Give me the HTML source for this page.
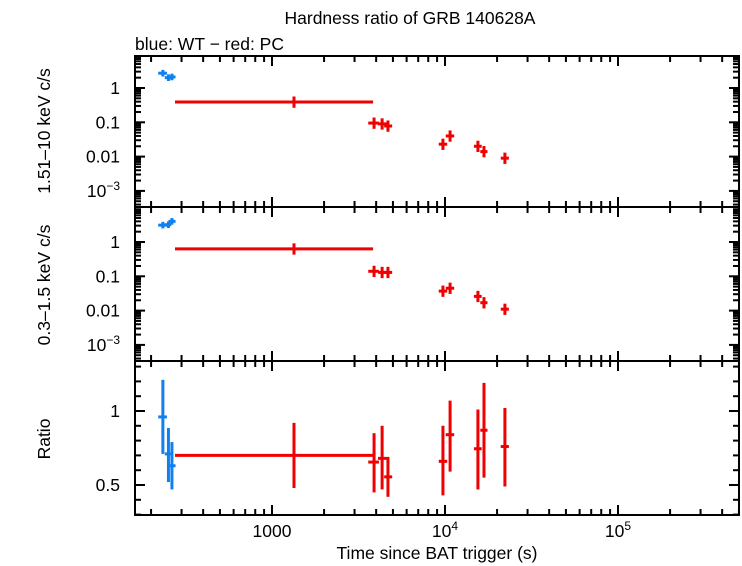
<!DOCTYPE html>
<html><head><meta charset="utf-8"><style>
html,body{margin:0;padding:0;background:#fff;}
svg{display:block;font-family:"Liberation Sans",sans-serif;}
</style></head><body>
<svg id="c" width="742" height="566" viewBox="0 0 742 566">
<text x="410" y="24" font-size="17.5" text-anchor="middle">Hardness ratio of GRB 140628A</text>
<text x="135" y="50" font-size="17.5">blue: WT − red: PC</text>
<text transform="translate(50,131) rotate(-90)" font-size="17.5" text-anchor="middle">1.51–10 keV c/s</text>
<text transform="translate(50,285) rotate(-90)" font-size="17.5" text-anchor="middle">0.3–1.5 keV c/s</text>
<text transform="translate(50,439) rotate(-90)" font-size="17.5" text-anchor="middle">Ratio</text>
<text x="437" y="559" font-size="17.5" text-anchor="middle">Time since BAT trigger (s)</text>
<g id="g"></g>
</svg>
<script>
// data
const wtTime=[234,252,264];
const wtTimeLo=[220,240,252];
const wtTimeHi=[247,262,277];
const wtHard=[2.7,2.0,2.1];
const wtSoft=[3.1,3.2,4.0];
const wtRatio=[0.96,0.71,0.63];
const wtRatioLo=[0.71,0.52,0.47];
const wtRatioHi=[1.21,0.885,0.79];
const pcTime=[1340,3890,4330,4680,9730,10700,15500,16800,22200];
const pcTimeLo=[275,3600,4100,4450,9200,10100,14700,16000,21000];
const pcTimeHi=[3840,4150,4600,4950,10300,11300,16300,17600,23400];
const pcHard=[0.39,0.095,0.09,0.078,0.023,0.04,0.02,0.014,0.009];
const pcSoft=[0.63,0.14,0.13,0.13,0.037,0.045,0.026,0.017,0.011];
const pcRatio=[0.70,0.655,0.68,0.555,0.66,0.84,0.745,0.87,0.76];
const pcRatioLo=[0.48,0.45,0.47,0.42,0.43,0.59,0.47,0.55,0.49];
const pcRatioHi=[0.92,0.85,0.9,0.69,0.9,1.07,1.01,1.19,1.02];
const xTicks=[1000,10000,100000];
const logTickLabels=["1","0.1","0.01","10⁻³"];
const logTickVals=[1,0.1,0.01,0.001];
const ratioTickVals=[0.5,1];
const ratioTickLabels=["0.5","1"];

const NS="http://www.w3.org/2000/svg";
const g=document.getElementById('g');
const L=135,R=739;
const panels=[{t:56,b:207},{t:207,b:361},{t:361,b:515}];
function X(t){return 272+(Math.log10(t)-3)*173;}
function YH(v){return 88-Math.log10(v)*34.3;}
function YS(v){return 242-Math.log10(v)*34.3;}
function YR(v){return 411-(v-1)*148;}
function el(tag,a,p){const e=document.createElementNS(NS,tag);for(const k in a)e.setAttribute(k,a[k]);(p||g).appendChild(e);return e;}
function line(x1,y1,x2,y2,c,w){return el('line',{x1,y1,x2,y2,stroke:c,'stroke-width':w});}
panels.forEach((p,i)=>{
 const r=el('rect',{x:L,y:p.t,width:R-L,height:p.b-p.t,fill:'none',stroke:'#000','stroke-width':2});
 
 
 for(let d=2;d<6;d++)for(let m=1;m<10;m++){
  const t=m*Math.pow(10,d);const x=X(t);if(x<L||x>R)continue;
  const len=m==1?10:6;
  line(x,p.t,x,p.t+len,'#000',2);line(x,p.b,x,p.b-len,'#000',2);
 }
});
xTicks.forEach((t,i)=>{
 const tx=el('text',{x:X(t),y:537,'font-size':17.5,'text-anchor':'middle'});
 
 
 if(i==0)tx.textContent='1000';else{tx.textContent='10';const s=el('tspan',{dy:-7,'font-size':12},tx);s.textContent=String(i+3);}
});
[[YH,56,207],[YS,207,361]].forEach(([Y,t,b])=>{
 for(let d=-4;d<2;d++)for(let m=1;m<10;m++){
  const y=Y(m*Math.pow(10,d));if(y<t+1||y>b-1)continue;
  const len=m==1?10:6;line(L,y,L+len,y,'#000',2);line(R,y,R-len,y,'#000',2);
 }
 logTickVals.forEach((v,i)=>{
  const tx=el('text',{x:120,y:Y(v)+6,'font-size':17.5,'text-anchor':'end'});
  
  
  if(i<3)tx.textContent=logTickLabels[i];else{tx.textContent='10';const s=el('tspan',{dy:-7,'font-size':12},tx);s.textContent='−3';}
 });
});
for(let v=0.3;v<1.35;v+=0.1){const y=YR(v);const major=Math.abs(v-0.5)<0.01||Math.abs(v-1)<0.01;const len=major?10:6;line(L,y,L+len,y,'#000',2);line(R,y,R-len,y,'#000',2);}
ratioTickVals.forEach((v,i)=>{const tx=el('text',{x:120,y:YR(v)+6,'font-size':17.5,'text-anchor':'end'});tx.textContent=ratioTickLabels[i];});
function pt(t,lo,hi,Y,v,vlo,vhi,c,name){
 const gg=el('g',{});
 
 
 el('line',{x1:X(lo),y1:Y(v),x2:X(hi),y2:Y(v),stroke:c,'stroke-width':3},gg);
 el('line',{x1:X(t),y1:Y(vhi),x2:X(t),y2:Y(vlo),stroke:c,'stroke-width':3},gg);
}
const B='#1080f0',Rd='#f00000';
wtTime.forEach((t,i)=>{
 pt(t,wtTimeLo[i],wtTimeHi[i],YH,wtHard[i],wtHard[i]*0.8,wtHard[i]*1.25,B,'wt-hard-point');
 pt(t,wtTimeLo[i],wtTimeHi[i],YS,wtSoft[i],wtSoft[i]*0.8,wtSoft[i]*1.25,B,'wt-soft-point');
 pt(t,wtTimeLo[i],wtTimeHi[i],YR,wtRatio[i],wtRatioLo[i],wtRatioHi[i],B,'wt-ratio-point');
});
pcTime.forEach((t,i)=>{
 pt(t,pcTimeLo[i],pcTimeHi[i],YH,pcHard[i],pcHard[i]*0.68,pcHard[i]*1.45,Rd,'pc-hard-point');
 pt(t,pcTimeLo[i],pcTimeHi[i],YS,pcSoft[i],pcSoft[i]*0.68,pcSoft[i]*1.45,Rd,'pc-soft-point');
 pt(t,pcTimeLo[i],pcTimeHi[i],YR,pcRatio[i],pcRatioLo[i],pcRatioHi[i],Rd,'pc-ratio-point');
});
</script>
</body></html>
